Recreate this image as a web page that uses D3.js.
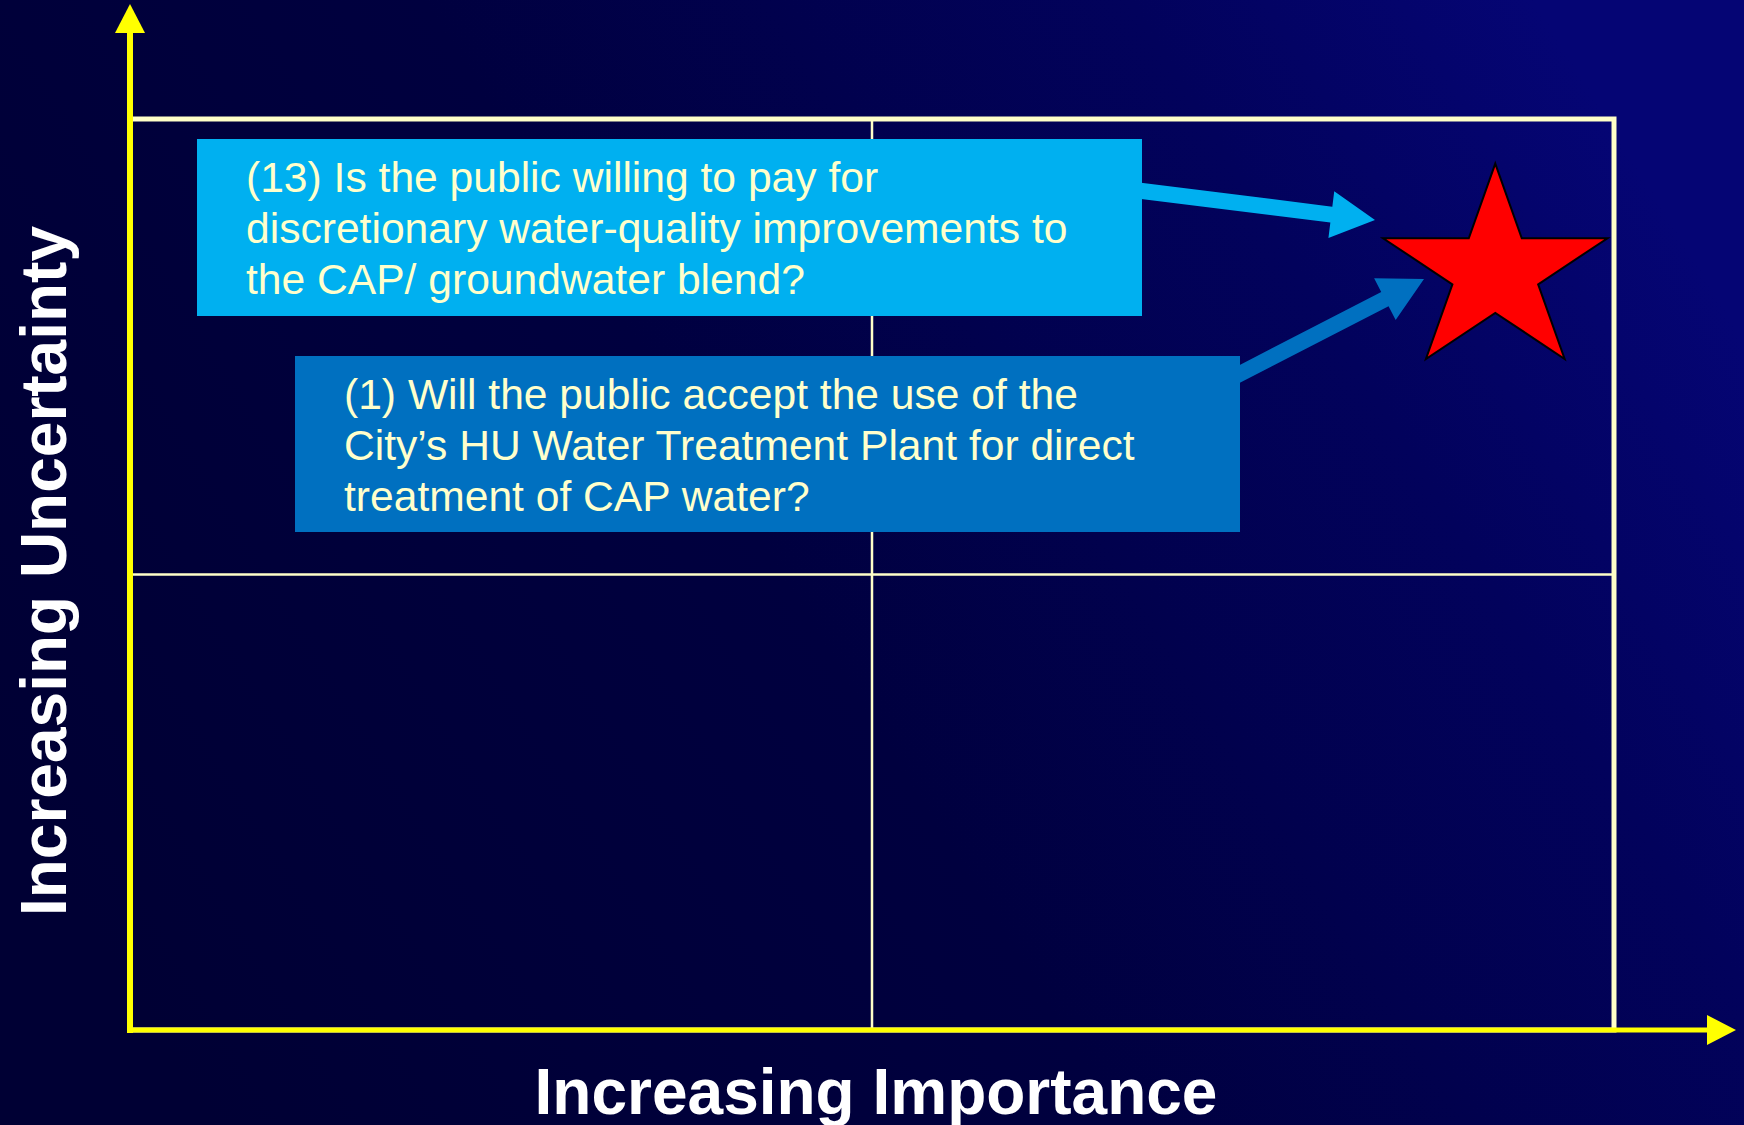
<!DOCTYPE html>
<html lang="en">
<head>
	<meta charset="utf-8">
	<title>Importance vs Uncertainty</title>
	<script src="https://d3js.org/d3.v7.min.js"></script>
	<style type="text/css">
		body { margin: 0; background: #000035; overflow: hidden; }
		text { font-family: "Liberation Sans", Arial, sans-serif; }
	</style>
</head>
<body>
<script type="text/javascript">

// canvas size
var w = 1744;
var h = 1125;

// data: axis titles, quadrant split, the key issue and the questions pointing at it
var xTitle = "Increasing Importance";
var yTitle = "Increasing Uncertainty";
var domainMax = 2;
var quadrantSplit = 1;
var starPoint = { importance: 1.84, uncertainty: 1.665 };
var questions = [
	["(13) Is the public willing to pay for",
	 "discretionary water-quality improvements to",
	 "the CAP/ groundwater blend?"],
	["(1) Will the public accept the use of the",
	 "City\u2019s HU Water Treatment Plant for direct",
	 "treatment of CAP water?"]
];
var questionColors = ["#00B0F0", "#0070C0"];

// layout (pixels)
var plot = { left: 130, right: 1614, top: 119, bottom: 1030 };
var yTipY = 4, xTipX = 1736, headLen = 29, headHalf = 15;
var boxes = [
	{ x: 197, y: 139, w: 945, h: 177, arrowFrom: [1130, 189.5], arrowTo: [1375, 220] },
	{ x: 295, y: 356, w: 945, h: 176, arrowFrom: [1228, 380], arrowTo: [1424, 279] }
];
var lineHeight = 51;

// scales
var xScale = d3.scaleLinear().domain([0, domainMax]).range([plot.left, plot.right]);
var yScale = d3.scaleLinear().domain([0, domainMax]).range([plot.bottom, plot.top]);

var svg = d3.select("body")
			.append("svg")
			.attr("width", w)
			.attr("height", h);

// background gradient
var defs = svg.append("defs");
var grad = defs.append("linearGradient")
	.attr("id", "bg")
	.attr("x1", 0).attr("y1", 0.7)
	.attr("x2", 1).attr("y2", 0.3);
grad.append("stop").attr("offset", "0%").attr("stop-color", "#000034");
grad.append("stop").attr("offset", "45%").attr("stop-color", "#00003f");
grad.append("stop").attr("offset", "80%").attr("stop-color", "#02025c");
grad.append("stop").attr("offset", "100%").attr("stop-color", "#050574");

svg.append("rect")
	.attr("width", w).attr("height", h)
	.attr("fill", "url(#bg)");

// quadrant frame
svg.append("rect")
	.attr("x", xScale(0)).attr("y", yScale(domainMax))
	.attr("width", xScale(domainMax) - xScale(0))
	.attr("height", yScale(0) - yScale(domainMax))
	.attr("fill", "none")
	.attr("stroke", "#FFFFC8")
	.attr("stroke-width", 5);

svg.append("line")
	.attr("x1", xScale(quadrantSplit)).attr("x2", xScale(quadrantSplit))
	.attr("y1", yScale(domainMax)).attr("y2", yScale(0))
	.attr("stroke", "#FFFFC8").attr("stroke-width", 2.5);

svg.append("line")
	.attr("x1", xScale(0)).attr("x2", xScale(domainMax))
	.attr("y1", yScale(quadrantSplit)).attr("y2", yScale(quadrantSplit))
	.attr("stroke", "#FFFFC8").attr("stroke-width", 2.5);

// axes with arrow heads
var axisG = svg.append("g").attr("fill", "#FFFF00").attr("stroke", "#FFFF00");

axisG.append("line")
	.attr("x1", xScale(0)).attr("x2", xScale(0))
	.attr("y1", yScale(0) + 3).attr("y2", yTipY + headLen)
	.attr("stroke-width", 6);
axisG.append("polygon")
	.attr("stroke", "none")
	.attr("points", [[xScale(0) - headHalf, yTipY + headLen], [xScale(0) + headHalf, yTipY + headLen], [xScale(0), yTipY]].join(" "));

axisG.append("line")
	.attr("x1", xScale(0) - 3).attr("x2", xTipX - headLen)
	.attr("y1", yScale(0)).attr("y2", yScale(0))
	.attr("stroke-width", 5);
axisG.append("polygon")
	.attr("stroke", "none")
	.attr("points", [[xTipX - headLen, yScale(0) - headHalf], [xTipX - headLen, yScale(0) + headHalf], [xTipX, yScale(0)]].join(" "));

// block arrows from each question to the star
function blockArrow(from, to, shaft, hLen, hWidth) {
	var dx = to[0] - from[0], dy = to[1] - from[1];
	var len = Math.sqrt(dx * dx + dy * dy);
	var ux = dx / len, uy = dy / len, px = -uy, py = ux;
	var bx = to[0] - ux * hLen, by = to[1] - uy * hLen;
	var s = shaft / 2, hw = hWidth / 2;
	var pts = [
		[from[0] + px * s, from[1] + py * s],
		[bx + px * s, by + py * s],
		[bx + px * hw, by + py * hw],
		to,
		[bx - px * hw, by - py * hw],
		[bx - px * s, by - py * s],
		[from[0] - px * s, from[1] - py * s]
	];
	return "M" + pts.join("L") + "Z";
}

svg.selectAll(".qarrow")
	.data(boxes)
	.enter()
	.append("path")
	.attr("class", "qarrow")
	.attr("d", d => blockArrow(d.arrowFrom, d.arrowTo, 16, 44, 47))
	.attr("fill", (d, i) => questionColors[i]);

// question boxes
var qG = svg.selectAll(".qbox")
	.data(questions)
	.enter()
	.append("g")
	.attr("class", "qbox")
	.attr("transform", (d, i) => "translate(" + boxes[i].x + "," + boxes[i].y + ")");

qG.append("rect")
	.attr("width", (d, i) => boxes[i].w)
	.attr("height", (d, i) => boxes[i].h)
	.attr("fill", (d, i) => questionColors[i]);

qG.selectAll("text")
	.data(d => d)
	.enter()
	.append("text")
	.attr("x", 49)
	.attr("y", (d, j) => 53 + j * lineHeight)
	.attr("fill", "#FFFFCC")
	.style("font-size", "42.6px")
	.text(d => d);

// the star
var R = 108;
svg.append("path")
	.attr("d", d3.symbol(d3.symbolStar, R * R / 0.8908130915292852)())
	.attr("transform", "translate(" + xScale(starPoint.importance) + "," + yScale(starPoint.uncertainty) + ") scale(" + (118 / R) + ",1)")
	.attr("fill", "#FF0000")
	.attr("stroke", "#000000")
	.attr("stroke-width", 2)
	.attr("vector-effect", "non-scaling-stroke");

// axis titles
svg.append("text")
	.attr("x", 876)
	.attr("y", 1114)
	.attr("text-anchor", "middle")
	.attr("fill", "#FFFFFF")
	.style("font-size", "64px")
	.style("font-weight", "bold")
	.text(xTitle);

svg.append("g")
		.attr("transform", "translate(" + 66 + "," + 571 + ")")
	.append("text")
		.attr("transform", "rotate(-90)")
		.attr("text-anchor", "middle")
		.attr("fill", "#FFFFFF")
		.style("font-size", "64px")
		.style("font-weight", "bold")
		.text(yTitle);

</script>
</body>
</html>
